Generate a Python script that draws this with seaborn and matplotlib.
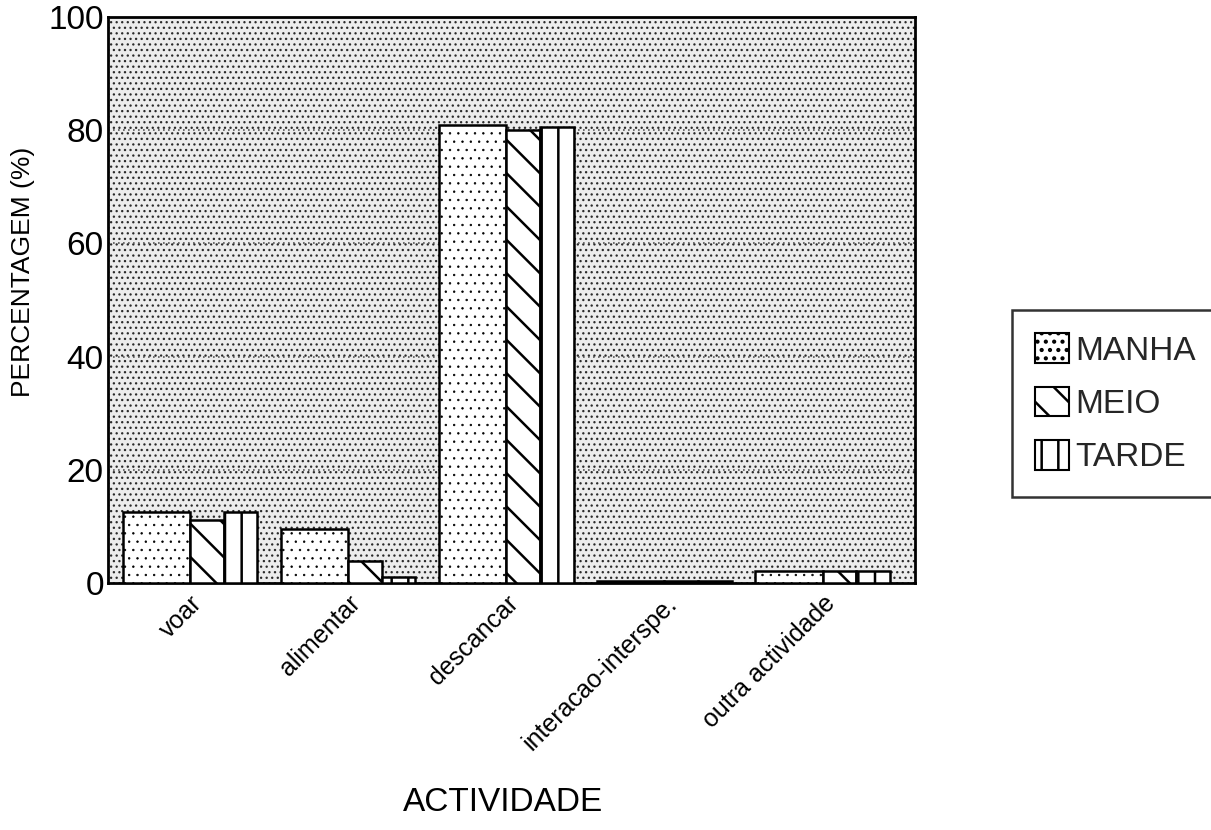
import matplotlib
matplotlib.use("Agg")
import matplotlib.pyplot as plt
import seaborn as sns
import pandas as pd
from matplotlib.patches import Patch, Rectangle

categories = ["voar", "alimentar", "descancar", "interacao-interspe.", "outra actividade"]
periods = ["MANHA", "MEIO", "TARDE"]
manha = [12.6, 9.6, 81.0, 0.4, 2.2]
meio = [11.1, 3.9, 80.0, 0.3, 2.2]
tarde = [12.5, 1.1, 80.6, 0.3, 2.2]

rows = []
for p, vals in zip(periods, [manha, meio, tarde]):
    for c, v in zip(categories, vals):
        rows.append({"ACTIVIDADE": c, "periodo": p, "pct": v})
df = pd.DataFrame(rows)

sns.set_theme(style="white")
plt.rcParams["font.family"] = ["Liberation Sans", "DejaVu Sans"]
plt.rcParams["hatch.color"] = "black"

W, H = 1211, 830
fig = plt.figure(figsize=(W / 100, H / 100), dpi=100)
ax = fig.add_axes([108 / W, 1 - 583 / H, (915 - 108) / W, (583 - 17) / H])

# dotted background
plt.rcParams["hatch.linewidth"] = 0.9
bg = Rectangle((0, 0), 1, 1, transform=ax.transAxes, facecolor="#ececec",
               edgecolor="#2a2a2a", hatch="...", lw=0, zorder=0)
ax.add_patch(bg)
ax.set_facecolor("white")

plt.rcParams["hatch.linewidth"] = 1.8
sns.barplot(data=df, x="ACTIVIDADE", y="pct", hue="periodo", order=categories,
            hue_order=periods, width=0.85, dodge=True, ax=ax, legend=False,
            edgecolor="black", linewidth=1.8, palette=["white"] * 3, zorder=3)

hatches = {"MANHA": "..", "MEIO": "\\", "TARDE": "|"}
gw = 0.85
bars = [p for p in ax.patches if p is not bg]
n = len(categories)
for k, p in enumerate(bars[: 3 * n]):
    per = periods[k // n]
    cat = k % n
    center = cat
    if per == "MANHA":
        p.set_x(center - gw / 2)
        p.set_width(gw / 2)
    elif per == "MEIO":
        p.set_x(center)
        p.set_width(gw / 4)
    else:
        p.set_x(center + gw / 4)
        p.set_width(gw / 4)
    p.set_hatch(hatches[per])
    if per == "MANHA" and hasattr(p, "set_hatch_linewidth"):
        p.set_hatch_linewidth(0.5)
    p.set_facecolor("white")
    p.set_zorder(3)

ax.set_xlim(-0.52, 4.585)
ax.set_ylim(0, 100)
ax.set_yticks([0, 20, 40, 60, 80, 100])
ax.set_yticklabels(["0", "20", "40", "60", "80", "100"], fontsize=24)
ax.set_xticks(range(n))
ax.set_xticklabels(categories, rotation=45, ha="right", rotation_mode="anchor", fontsize=18)
ax.tick_params(axis="y", length=0, pad=3, colors="black")
ax.tick_params(axis="x", length=0, pad=6, colors="black")
for y in [20, 40, 60, 80]:
    ax.axhline(y, color="#555555", lw=1.2, ls=(0, (1, 2)), zorder=1)

for s in ax.spines.values():
    s.set_visible(True)
    s.set_color("black")
    s.set_linewidth(2)

ax.set_xlabel("ACTIVIDADE", fontsize=24, color="black")
ax.set_ylabel("PERCENTAGEM (%)", fontsize=19, color="black")
ax.yaxis.set_label_coords(-0.09, 0.55)
ax.xaxis.set_label_coords(0.49, -0.36)

handles = [Patch(facecolor="white", edgecolor="black", hatch=hatches[p], lw=1.5, label=p)
           for p in periods]
leg = fig.legend(handles=handles, loc="upper left", bbox_to_anchor=(1012 / W, 1 - 310 / H),
                 fontsize=24, frameon=True, fancybox=False, handlelength=1.0,
                 handleheight=1.0, handletextpad=0.2, labelspacing=0.6,
                 borderpad=0.7, borderaxespad=0)
leg.get_frame().set_edgecolor("black")
leg.get_frame().set_linewidth(1.8)

fig.savefig("out.png", dpi=100)
